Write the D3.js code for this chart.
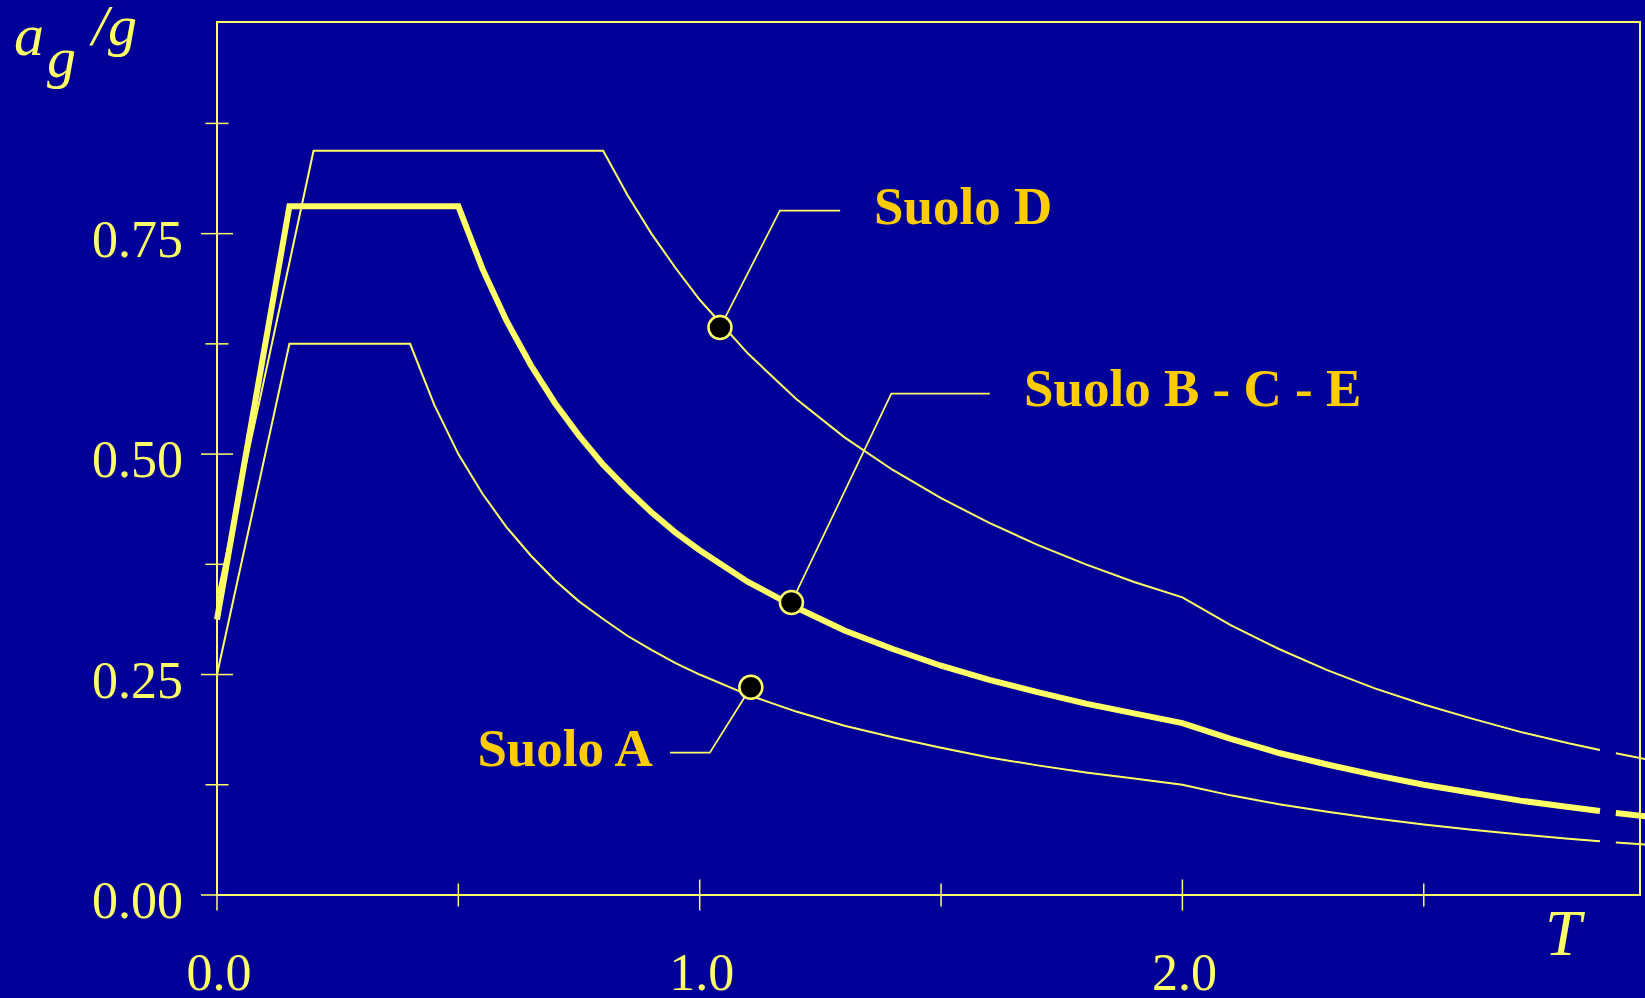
<!doctype html>
<html lang="it">
<head>
  <meta charset="utf-8">
  <script src="https://d3js.org/d3.v7.min.js"></script>
  <style>
    html, body { margin: 0; padding: 0; background: #000099; }
    svg { display: block; }
  </style>
</head>
<body>
  <script>
    var width = 1645,
        height = 998;

    // periods T (s) - same grid for the three spectra, axis break after 2.865
    var periods = [0, 0.15, 0.2, 0.4, 0.45, 0.5, 0.55, 0.6, 0.65, 0.7, 0.75, 0.8, 0.85, 0.9, 0.95,
                   1.0, 1.1, 1.2, 1.3, 1.4, 1.5, 1.6, 1.7, 1.8, 1.9, 2.0,
                   2.1, 2.2, 2.3, 2.4, 2.5, 2.6, 2.7, 2.8, 2.865];
    var tailPeriods = [2.898, 2.96];

    // spectral acceleration a_g/g
    var suoloA   = [0.25, 0.625, 0.625, 0.625, 0.556, 0.5, 0.455, 0.417, 0.385, 0.357, 0.333, 0.313, 0.294, 0.278, 0.263,
                    0.25, 0.227, 0.208, 0.192, 0.179, 0.167, 0.156, 0.147, 0.139, 0.132, 0.125,
                    0.113, 0.103, 0.0945, 0.0868, 0.080, 0.074, 0.0686, 0.0638, 0.0609];
    var suoloBCE = [0.3125, 0.781, 0.781, 0.781, 0.781, 0.781, 0.710, 0.651, 0.601, 0.558, 0.521, 0.488, 0.460, 0.434, 0.411,
                    0.391, 0.355, 0.326, 0.300, 0.279, 0.260, 0.244, 0.230, 0.217, 0.206, 0.195,
                    0.177, 0.161, 0.148, 0.136, 0.125, 0.116, 0.107, 0.0997, 0.0952];
    var suoloD   = [0.3375, 0.717, 0.844, 0.844, 0.844, 0.844, 0.844, 0.844, 0.844, 0.844, 0.844, 0.844, 0.794, 0.75, 0.711,
                    0.675, 0.614, 0.5625, 0.519, 0.482, 0.45, 0.422, 0.397, 0.375, 0.355, 0.3375,
                    0.306, 0.279, 0.255, 0.234, 0.216, 0.200, 0.185, 0.172, 0.1645];
    var tailA   = [0.0595, 0.0571];
    var tailBCE = [0.0930, 0.0892];
    var tailD   = [0.1608, 0.1541];

    // axis ticks
    var xTicks = [0, 0.5, 1.0, 1.5, 2.0, 2.5];
    var xTickLabels = ["0.0", "", "1.0", "", "2.0", ""];
    var yTicks = [0, 0.125, 0.25, 0.375, 0.5, 0.625, 0.75, 0.875];
    var yTickLabels = ["0.00", "", "0.25", "", "0.50", "", "0.75", ""];

    // annotations: label, marker (T, value), elbow (T, value), end T, label anchor (T, value)
    var annLabels = ["Suolo D", "Suolo B - C - E", "Suolo A"];
    var annMarkerT = [1.042, 1.190, 1.106];
    var annMarkerV = [0.6435, 0.3316, 0.2356];
    var annElbowT  = [1.166, 1.397, 1.021];
    var annElbowV  = [0.776, 0.5686, 0.1614];
    var annEndT    = [1.291, 1.601, 0.9385];
    var annTextT   = [1.361, 1.672, 0.9026];
    var annTextV   = [0.761, 0.555, 0.1463];
    var annAnchor  = ["start", "start", "end"];

    var yellow = "#FFFF66",
        gold = "#FFCC00",
        serif = "'Liberation Serif', 'Times New Roman', serif";

    var x = d3.scaleLinear().domain([0, 2.948]).range([217, 1640]);
    var y = d3.scaleLinear().domain([0, 0.99]).range([895, 22]);

    var svg = d3.select("body").append("svg")
        .attr("width", width)
        .attr("height", height)
        .style("background-color", "#000099");

    // frame
    svg.append("rect")
        .attr("x", x(0)).attr("y", y(0.99))
        .attr("width", x(2.948) - x(0))
        .attr("height", y(0) - y(0.99))
        .style("fill", "none")
        .style("stroke", yellow)
        .style("stroke-width", 2);

    // y ticks (crossing the axis)
    svg.selectAll("line.ytick")
        .data(yTicks)
      .enter().append("line")
        .attr("class", "ytick")
        .attr("x1", function(d, i) { return x(0) - (yTickLabels[i] ? 16 : 11.5); })
        .attr("x2", function(d, i) { return x(0) + (yTickLabels[i] ? 16 : 11.5); })
        .attr("y1", function(d) { return y(d); })
        .attr("y2", function(d) { return y(d); })
        .style("stroke", yellow)
        .style("stroke-width", 1.5);

    svg.selectAll("text.ylab")
        .data(yTicks)
      .enter().append("text")
        .attr("class", "ylab")
        .attr("x", 183)
        .attr("y", function(d) { return y(d) + 23; })
        .attr("text-anchor", "end")
        .style("font-family", serif)
        .style("font-size", "52px")
        .style("fill", yellow)
        .text(function(d, i) { return yTickLabels[i]; });

    // x ticks
    svg.selectAll("line.xtick")
        .data(xTicks)
      .enter().append("line")
        .attr("class", "xtick")
        .attr("x1", function(d) { return x(d); })
        .attr("x2", function(d) { return x(d); })
        .attr("y1", function(d, i) { return y(0) - (xTickLabels[i] ? 15.5 : 11.5); })
        .attr("y2", function(d, i) { return y(0) + (xTickLabels[i] ? 15.5 : 11.5); })
        .style("stroke", yellow)
        .style("stroke-width", 1.5);

    svg.selectAll("text.xlab")
        .data(xTicks)
      .enter().append("text")
        .attr("class", "xlab")
        .attr("x", function(d) { return x(d) + 2; })
        .attr("y", 990)
        .attr("text-anchor", "middle")
        .style("font-family", serif)
        .style("font-size", "52px")
        .style("fill", yellow)
        .text(function(d, i) { return xTickLabels[i]; });

    // axis titles
    svg.append("text").attr("x", 14).attr("y", 55)
        .style("font-family", serif).style("font-style", "italic")
        .style("font-size", "60px").style("fill", yellow).text("a");
    svg.append("text").attr("x", 47).attr("y", 77)
        .style("font-family", serif).style("font-style", "italic")
        .style("font-size", "58px").style("fill", yellow).text("g");
    svg.append("text").attr("x", 92).attr("y", 45)
        .style("font-family", serif).style("font-style", "italic")
        .style("font-size", "58px").style("fill", yellow).text("/g");
    svg.append("text").attr("x", 1545).attr("y", 955)
        .style("font-family", serif).style("font-style", "italic")
        .style("font-size", "65px").style("fill", yellow).text("T");

    // spectra
    var line = d3.line()
        .x(function(d) { return x(d[0]); })
        .y(function(d) { return y(d[1]); });

    var series = [
      { values: suoloA, tail: tailA, w: 2 },
      { values: suoloD, tail: tailD, w: 2 },
      { values: suoloBCE, tail: tailBCE, w: 6 }
    ];

    series.forEach(function(s) {
      var main = periods.map(function(t, i) { return [t, s.values[i]]; });
      var tail = tailPeriods.map(function(t, i) { return [t, s.tail[i]]; });
      [main, tail].forEach(function(pts) {
        svg.append("path")
            .attr("d", line(pts))
            .style("fill", "none")
            .style("stroke", yellow)
            .style("stroke-width", s.w)
            .style("stroke-linejoin", "miter");
      });
    });

    // annotation leaders, markers and labels
    annLabels.forEach(function(lab, i) {
      svg.append("polyline")
          .attr("points", [
              [x(annMarkerT[i]), y(annMarkerV[i])],
              [x(annElbowT[i]), y(annElbowV[i])],
              [x(annEndT[i]), y(annElbowV[i])]
            ].map(function(p) { return p.join(","); }).join(" "))
          .style("fill", "none")
          .style("stroke", yellow)
          .style("stroke-width", 1.7);

      svg.append("circle")
          .attr("cx", x(annMarkerT[i]))
          .attr("cy", y(annMarkerV[i]))
          .attr("r", 11.5)
          .style("fill", "black")
          .style("stroke", yellow)
          .style("stroke-width", 2.5);

      svg.append("text")
          .attr("x", x(annTextT[i]))
          .attr("y", y(annTextV[i]))
          .attr("text-anchor", annAnchor[i])
          .style("font-family", serif)
          .style("font-weight", "bold")
          .style("font-size", "53px")
          .style("fill", gold)
          .text(lab);
    });
  </script>
</body>
</html>
